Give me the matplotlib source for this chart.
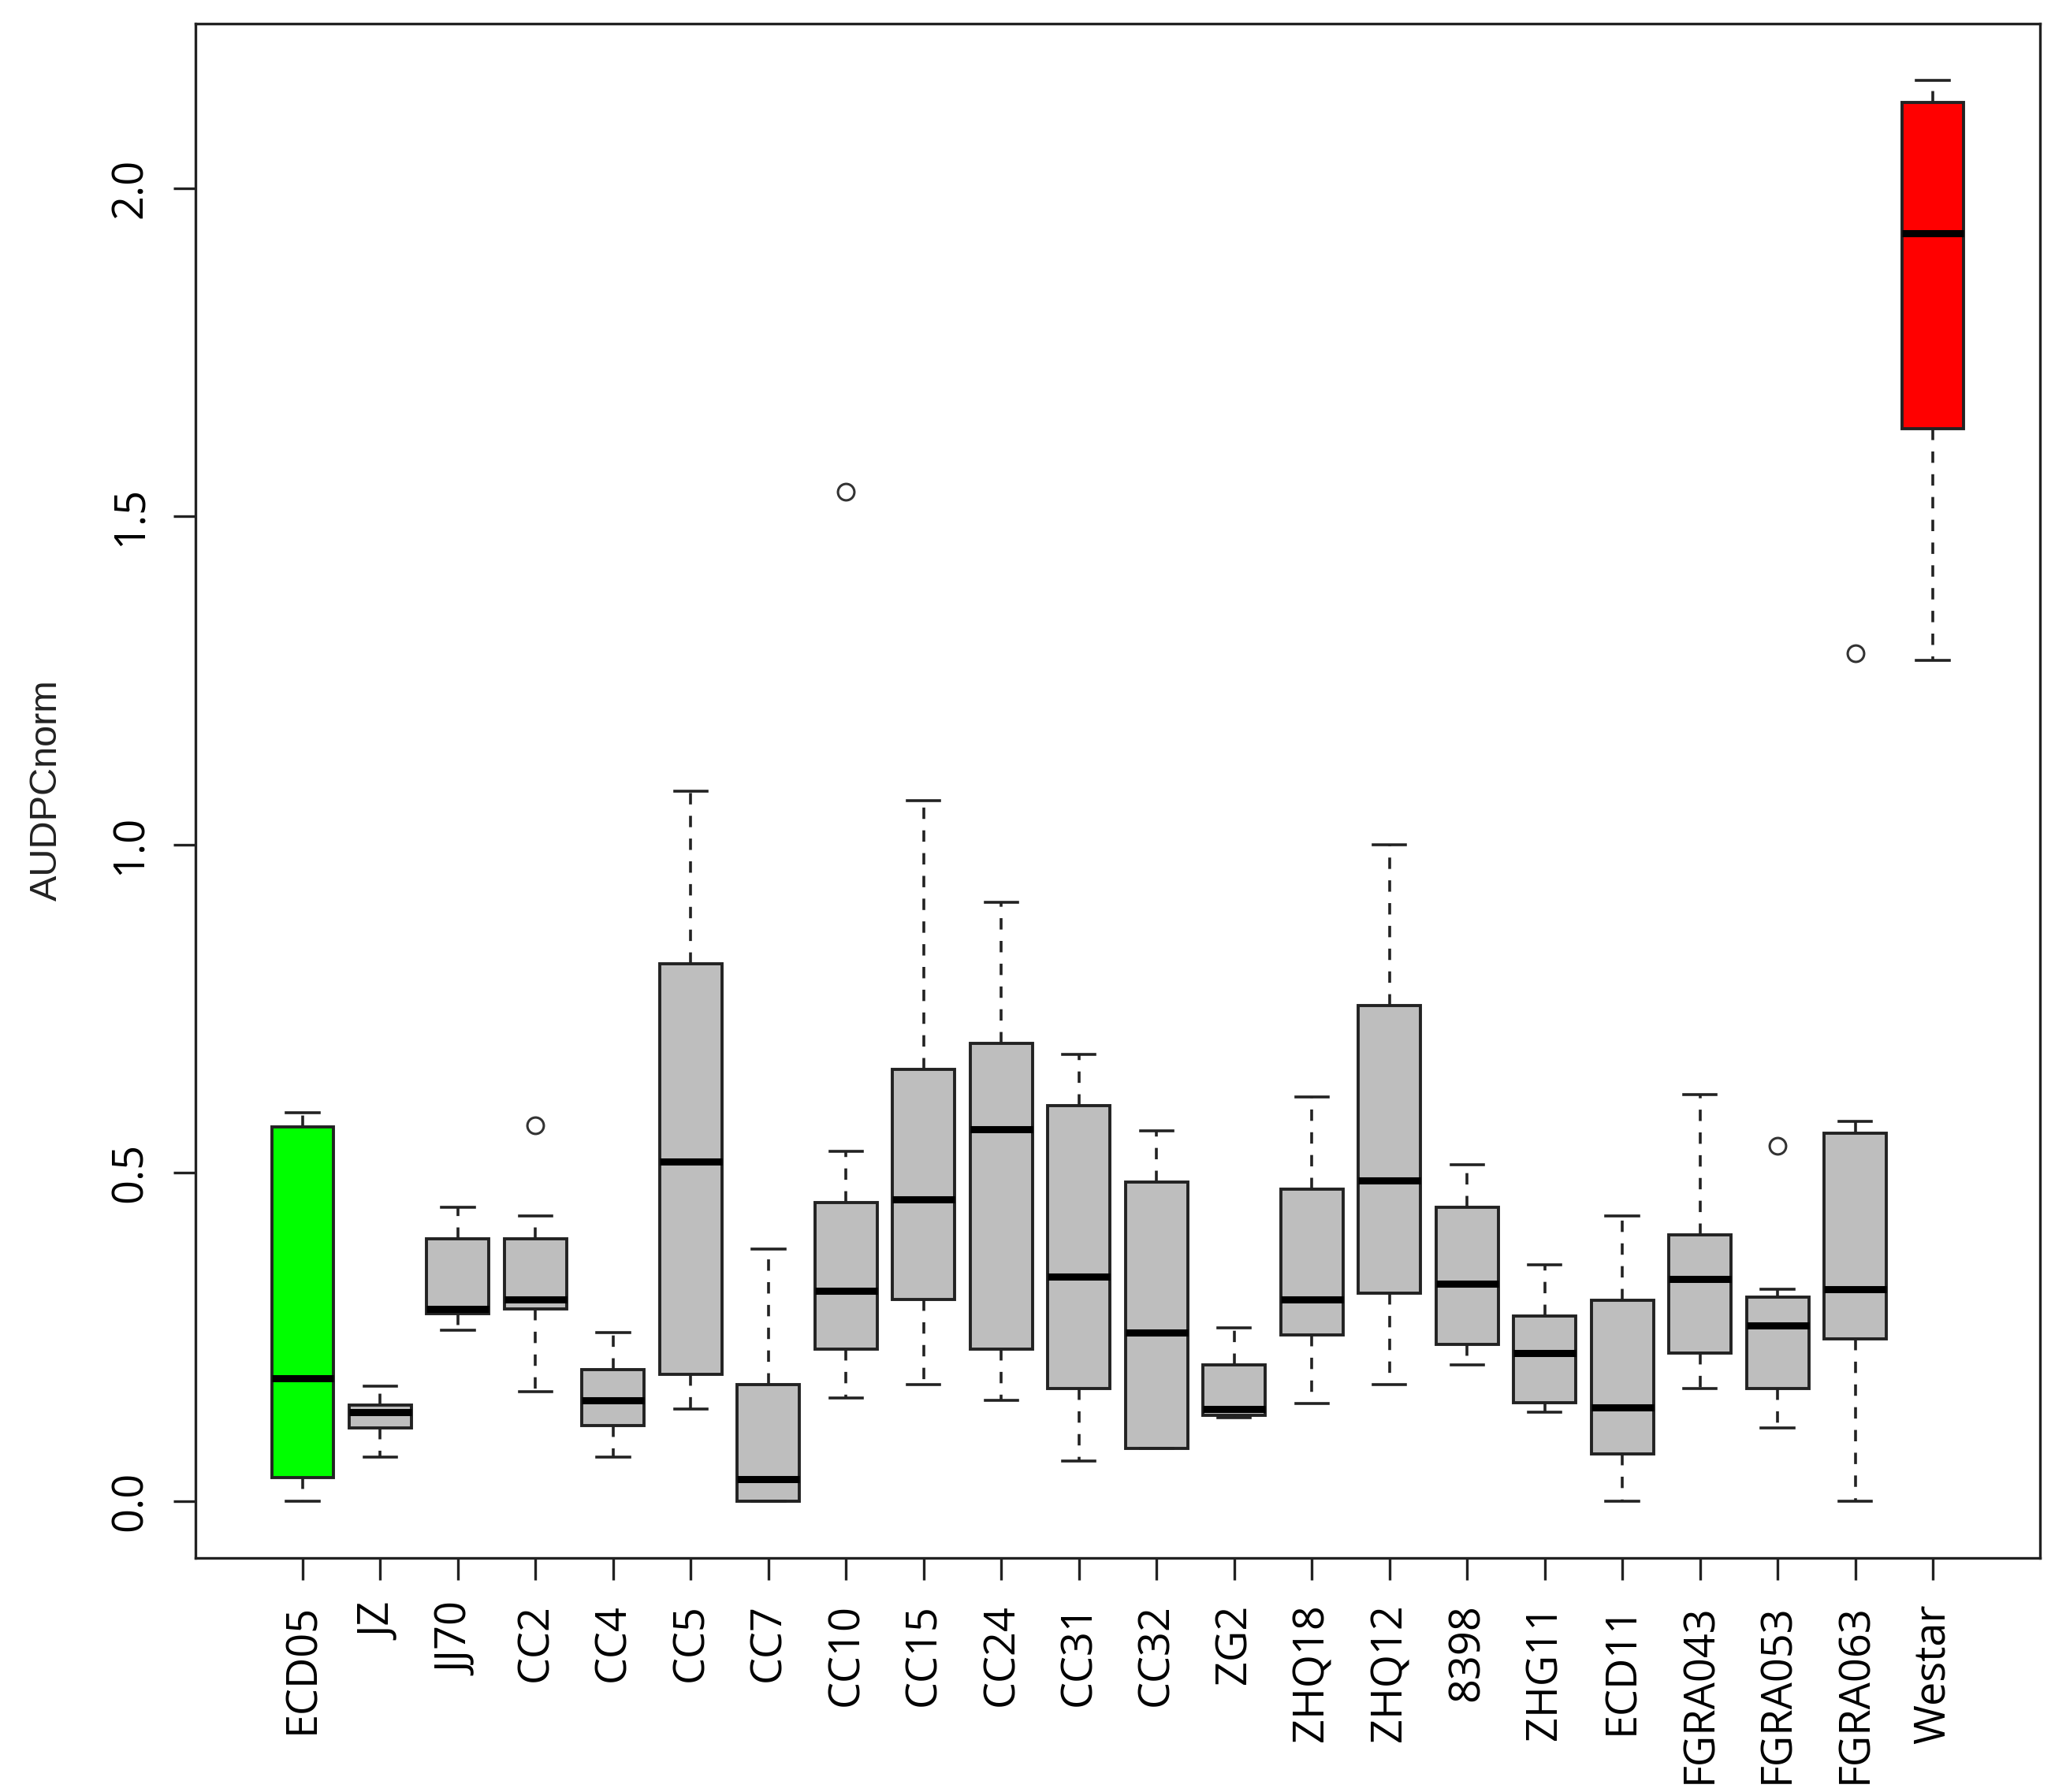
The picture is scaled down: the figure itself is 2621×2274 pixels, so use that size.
import matplotlib
matplotlib.use("Agg")
import matplotlib.pyplot as plt

# values
names = ["ECD05", "JZ", "JJ70", "CC2", "CC4", "CC5", "CC7", "CC10", "CC15", "CC24",
         "CC31", "CC32", "ZG2", "ZHQ18", "ZHQ12", "8398", "ZHG11", "ECD11",
         "FGRA043", "FGRA053", "FGRA063", "Westar"]
whishi = [0.592, 0.175, 0.448, 0.435, 0.257, 1.082, 0.384, 0.533, 1.067, 0.912,
          0.680, 0.564, 0.264, 0.616, 1.000, 0.513, 0.360, 0.435,
          0.619, 0.323, 0.578, 2.164]
q3 = [0.570, 0.146, 0.399, 0.399, 0.200, 0.819, 0.178, 0.455, 0.658, 0.697,
      0.602, 0.486, 0.207, 0.475, 0.755, 0.448, 0.282, 0.306,
      0.406, 0.311, 0.560, 2.131]
med = [0.187, 0.136, 0.293, 0.307, 0.154, 0.517, 0.033, 0.320, 0.460, 0.566,
       0.342, 0.257, 0.140, 0.307, 0.489, 0.331, 0.225, 0.143,
       0.338, 0.267, 0.323, 1.931]
q1 = [0.036, 0.111, 0.286, 0.293, 0.115, 0.193, 0.000, 0.231, 0.307, 0.231,
      0.171, 0.080, 0.131, 0.253, 0.317, 0.239, 0.150, 0.072,
      0.225, 0.171, 0.247, 1.633]
whislo = [0.000, 0.067, 0.260, 0.167, 0.067, 0.140, 0.000, 0.157, 0.178, 0.153,
          0.061, 0.080, 0.127, 0.149, 0.178, 0.207, 0.136, 0.000,
          0.171, 0.111, 0.000, 1.281]
outliers = {"CC2": [0.573], "CC10": [1.538], "FGRA053": [0.541], "FGRA063": [1.292]}
special_colors = {"ECD05": "#00FF00", "Westar": "#FF0000"}

stats = []
for i, nm in enumerate(names):
    stats.append(dict(label=nm, med=med[i], q1=q1[i], q3=q3[i],
                      whislo=whislo[i], whishi=whishi[i],
                      fliers=outliers.get(nm, [])))

fig = plt.figure(figsize=(26.21, 22.74), dpi=100)
ax = fig.add_axes([248 / 2621, 1 - 1977 / 2274, (2588 - 248) / 2621, (1977 - 30) / 2274])

edge = "#222222"
positions = list(range(1, len(names) + 1))
bp = ax.bxp(stats, positions=positions, widths=0.8, patch_artist=True,
            capwidths=0.42,
            boxprops=dict(edgecolor=edge, linewidth=2.8),
            medianprops=dict(color="black", linewidth=6.5, solid_capstyle="butt"),
            whiskerprops=dict(color=edge, linewidth=2.6, linestyle=(0, (4, 4))),
            capprops=dict(color=edge, linewidth=2.6),
            flierprops=dict(marker="o", markerfacecolor="none", markeredgecolor="#333333",
                            markersize=15, markeredgewidth=2.2))

for patch, nm in zip(bp["boxes"], names):
    patch.set_facecolor(special_colors.get(nm, "#BEBEBE"))

# R style axis ranges (4% padding)
n = len(names)
ax.set_xlim(0.5 - 0.04 * n, n + 0.5 + 0.04 * n)
ymax = max(whishi + [v for vals in outliers.values() for v in vals])
ymin = min(whislo)
yr = ymax - ymin
ax.set_ylim(ymin - 0.04 * yr, ymax + 0.04 * yr)

ax.set_yticks([0.0, 0.5, 1.0, 1.5, 2.0])
ax.set_yticklabels(["0.0", "0.5", "1.0", "1.5", "2.0"], rotation=90, va="center",
                   fontsize=39, family="Open Sans")
ax.set_xticks(positions)
ax.set_xticklabels(names, rotation=90, fontsize=39, family="Open Sans")

ax.tick_params(axis="both", length=20, width=2.4, color=edge)
ax.tick_params(axis="y", pad=20)
ax.tick_params(axis="x", pad=22)

for sp in ax.spines.values():
    sp.set_linewidth(2.4)
    sp.set_color(edge)

fig.text(59 / 2621, 1 - 1003 / 2274, "AUDPCnorm", rotation=90, ha="center", va="center",
         fontsize=35, family="Liberation Sans", color="#222222")

fig.savefig("out.png", dpi=100)
